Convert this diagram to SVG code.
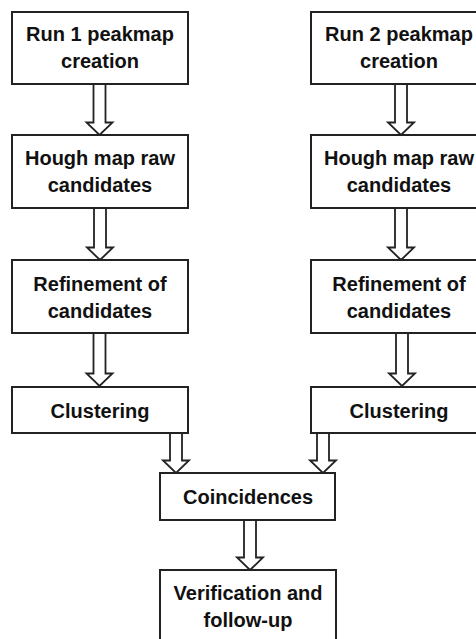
<svg xmlns="http://www.w3.org/2000/svg" width="476" height="639" viewBox="0 0 476 639">
<style>
.box{fill:#fff;stroke:#222;stroke-width:2}
.arr{fill:none;stroke:#222;stroke-width:1.8;stroke-linejoin:miter}
text{font-family:"Liberation Sans",Arial,sans-serif;font-weight:bold;font-size:20px;fill:#111;text-anchor:middle}
</style>
<rect width="476" height="639" fill="#fff"/>
<g id="n1"><rect class="box" x="12" y="12" width="176" height="72"/><text x="100" y="41">Run 1 peakmap</text><text x="100" y="68">creation</text></g>
<g id="n2"><rect class="box" x="12" y="135" width="176" height="73"/><text x="100" y="165">Hough map raw</text><text x="100" y="192">candidates</text></g>
<g id="n3"><rect class="box" x="12" y="260" width="176" height="73"/><text x="100" y="291">Refinement of</text><text x="100" y="318">candidates</text></g>
<g id="n4"><rect class="box" x="12" y="387" width="176" height="46"/><text x="100" y="418">Clustering</text></g>
<g id="m1"><rect class="box" x="311" y="12" width="176" height="72"/><text x="399" y="41">Run 2 peakmap</text><text x="399" y="68">creation</text></g>
<g id="m2"><rect class="box" x="311" y="135" width="176" height="73"/><text x="399" y="165">Hough map raw</text><text x="399" y="192">candidates</text></g>
<g id="m3"><rect class="box" x="311" y="260" width="176" height="73"/><text x="399" y="291">Refinement of</text><text x="399" y="318">candidates</text></g>
<g id="m4"><rect class="box" x="311" y="387" width="176" height="46"/><text x="399" y="418">Clustering</text></g>
<g id="coinc"><rect class="box" x="160" y="473" width="175" height="47"/><text x="248" y="504">Coincidences</text></g>
<g id="verif"><rect class="box" x="160" y="570" width="176" height="73"/><text x="248" y="600">Verification and</text><text x="248" y="627">follow-up</text></g>
<g id="connectors">
<path class="arr" d="M93.5,84 V122.5 H86.5 L99.5,135 L112.5,122.5 H105.5 V84"/>
<path class="arr" d="M94,208 V247.5 H87 L100,260 L113,247.5 H106 V208"/>
<path class="arr" d="M93.5,333 V373.5 H86.5 L99.5,386 L112.5,373.5 H105.5 V333"/>
<path class="arr" d="M395,84 V122.5 H388 L401,135 L414,122.5 H407 V84"/>
<path class="arr" d="M395,208 V247.5 H388 L401,260 L414,247.5 H407 V208"/>
<path class="arr" d="M396,333 V373.5 H389 L402,386 L415,373.5 H408 V333"/>
<path class="arr" d="M170,433 V460.5 H163 L176,473 L189,460.5 H182 V433"/>
<path class="arr" d="M317,433 V460.5 H310 L323,473 L336,460.5 H329 V433"/>
<path class="arr" d="M244,520 V557.5 H237 L250,570 L263,557.5 H256 V520"/>
</g>
</svg>
